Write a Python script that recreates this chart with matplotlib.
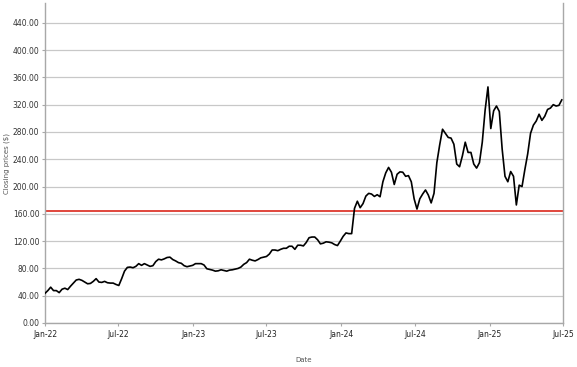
import matplotlib
matplotlib.use("Agg")
import matplotlib.pyplot as plt
import matplotlib.dates as mdates
import pandas as pd
import numpy as np

# Weekly closing prices
prices_2022 = [43.5, 47.5, 52.5, 47.5, 47.5, 44.5, 49.5, 51, 49, 54,
               58.5, 63, 64, 62.5, 60, 57.5, 58, 61, 65, 60,
               59.5, 61, 59, 58.5, 58.5, 56.5, 55, 65, 76, 81.5,
               82, 81, 83, 87, 84.5, 87, 85, 83, 84, 90,
               93.5, 92.5, 94, 96, 96.5, 93, 91, 88.5, 87.5, 84,
               82.5, 83.5, 84.5]
prices_2023 = [87, 87, 87, 85, 79.5, 78.5, 77.5, 76, 76.5, 78,
               77, 76, 77.5, 78, 79, 80, 82, 86, 88.5, 93.5,
               92, 91, 93, 95.5, 96.5, 97.5, 101, 107, 107, 106,
               108, 109.5, 109.5, 112.5, 112.5, 108, 114, 114, 113, 118,
               125, 126, 126, 122, 116, 117, 119, 118.5, 117.5, 115,
               113.5, 120, 127, 132, 131]
prices_2024 = [131, 168, 178.5, 169, 175, 186, 190, 189, 185.5, 188,
               185, 207, 220, 228, 221, 203, 218, 221.5, 221, 215,
               216, 207, 182, 167, 182, 189, 195, 187.5, 176, 190,
               235, 261, 284]
prices_2025 = [278, 272, 271, 262, 233, 229, 245, 265, 250, 250,
               233, 227, 235, 265, 312, 346, 285, 311, 318, 310,
               255, 215, 207, 222, 215, 173, 202, 200, 225, 248,
               278, 290, 296, 306, 297, 303, 313, 315, 320, 318,
               319, 327]
threshold = 164.7
y_ticks = [0, 40, 80, 120, 160, 200, 240, 280, 320, 360, 400, 440]
x_ticks = ["2022-01-01", "2022-07-01", "2023-01-01", "2023-07-01",
           "2024-01-01", "2024-07-01", "2025-01-01", "2025-07-01"]

prices = prices_2022 + prices_2023 + prices_2024 + prices_2025
dates = pd.date_range("2022-01-01", periods=len(prices), freq="7D")

fig = plt.figure(figsize=(5.77, 3.67), dpi=100)
ax = fig.add_axes([45/577, 1-323/367, (563-45)/577, 320/367])

ax.plot(dates, prices, color="black", lw=1.2, zorder=3)
ax.axhline(threshold, color="#e0463c", lw=1.4, zorder=2)

ax.set_ylim(0, 469)
ax.set_xlim(pd.Timestamp("2022-01-01"), pd.Timestamp("2025-07-01"))
ax.set_yticks(y_ticks)
ax.set_yticklabels([f"{v:.2f}" for v in y_ticks])
ax.set_xticks(pd.to_datetime(x_ticks))
ax.xaxis.set_major_formatter(mdates.DateFormatter("%b-%y"))

ax.grid(axis="y", color="#c8c8c8", lw=0.9)
ax.set_axisbelow(True)
for s in ["left", "bottom", "right"]:
    ax.spines[s].set_color("#a8a8a8")
    ax.spines[s].set_linewidth(1.0)
ax.spines["top"].set_visible(False)

ax.tick_params(axis="both", length=2, color="#a8a8a8", labelsize=5.5,
               labelcolor="#333333", pad=2)
ax.tick_params(axis="x", pad=3, labelcolor="#222222")

ax.set_ylabel("Closing prices ($)", fontsize=5, color="#555555")
ax.yaxis.set_label_coords(-0.068, 0.5)
ax.set_xlabel("Date", fontsize=5, color="#555555", labelpad=13)

fig.savefig("out.png", dpi=100)
